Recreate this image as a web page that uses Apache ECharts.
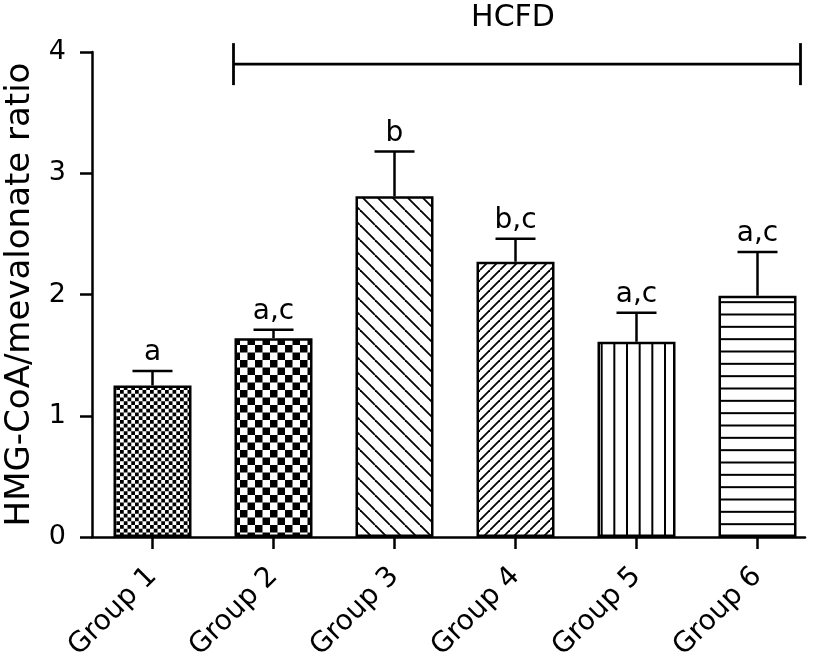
<!DOCTYPE html>
<html><head><meta charset="utf-8">
<script src="https://cdn.jsdelivr.net/npm/echarts@6/dist/echarts.min.js"></script>
<style>html,body{margin:0;padding:0;background:#fff}#c{width:825px;height:667px}</style>
</head><body><div id="c"></div>
<script>
// ---- data ----
const categories = ['Group 1', 'Group 2', 'Group 3', 'Group 4', 'Group 5', 'Group 6'];
const means = [1.25, 1.64, 2.81, 2.27, 1.61, 1.99];
const errors = [0.12, 0.07, 0.37, 0.19, 0.24, 0.36];
const letters = ['a', 'a,c', 'b', 'b,c', 'a,c', 'a,c'];
const yTicks = [0, 1, 2, 3, 4];
const yTitle = 'HMG-CoA/mevalonate ratio';
const bracketLabel = 'HCFD';
const bracketFrom = 1;
const bracketTo = 5;
const bracketLevel = 3.9;

// ---- styles ----
const FONT = 'DejaVu Sans';
const BAR_W = 78;
const LW = 2.5;

function makeCanvas(w, h, draw) {
  const c = document.createElement('canvas');
  c.width = w; c.height = h;
  const g = c.getContext('2d');
  g.fillStyle = '#fff'; g.fillRect(0, 0, w, h);
  g.fillStyle = '#000'; g.strokeStyle = '#000';
  draw(g, w, h);
  return { image: c, repeat: 'repeat' };
}
function checker(size, n) {
  return makeCanvas(size, size, (g) => {
    const cell = size / n;
    for (let i = 0; i < n; i++) for (let j = 0; j < n; j++)
      if ((i + j) % 2 === 0) g.fillRect(i * cell, j * cell, cell, cell);
  });
}
function diag(p, back, lw) {
  return makeCanvas(p, p, (g) => {
    g.lineWidth = lw;
    for (let k = -1; k <= 1; k++) {
      g.beginPath();
      if (back) { g.moveTo(k * p, 0); g.lineTo(k * p + p, p); }
      else { g.moveTo(k * p, p); g.lineTo(k * p + p, 0); }
      g.stroke();
    }
  });
}
function vlines(w, n, lw) {
  return makeCanvas(w, 4, (g, W, H) => {
    const s = w / n;
    for (let k = 0; k < n; k++) g.fillRect(k * s + s / 2 - lw / 2, 0, lw, H);
  });
}
function hlines(h, n, lw) {
  return makeCanvas(4, h, (g, W, H) => {
    const s = h / n;
    for (let k = 0; k < n; k++) g.fillRect(0, k * s + s / 2 - lw / 2, W, lw);
  });
}
const patterns = [
  checker(15, 4),
  checker(15, 2),
  diag(15, true, 1.8),
  diag(10, false, 1.8),
  vlines(38, 3, 2),
  hlines(37, 3, 2)
];

const chart = echarts.init(document.getElementById('c'), null, { renderer: 'canvas' });
chart.setOption({
  backgroundColor: '#fff',
  animation: false,
  grid: [
    { left: 92, right: 7, top: 52, bottom: 130, containLabel: false, outerBoundsMode: 'none' },
    { left: 92, right: 20, top: 52, bottom: 130, containLabel: false, outerBoundsMode: 'none' }
  ],
  xAxis: [
    {
      type: 'category', data: categories, gridIndex: 0,
      axisLine: { show: false },
      axisTick: { show: true, alignWithLabel: true, length: 12, lineStyle: { color: '#000', width: LW } },
      axisLabel: { rotate: 45, fontFamily: FONT, fontSize: 28, color: '#000', margin: 35, interval: 0 },
      splitLine: { show: false }
    },
    {
      type: 'value', gridIndex: 1, min: 0, max: 1,
      axisLine: { show: true, onZero: false, lineStyle: { color: '#000', width: LW } },
      axisTick: { show: false }, axisLabel: { show: false }, splitLine: { show: false }
    }
  ],
  yAxis: [
    {
      type: 'value', gridIndex: 0, min: yTicks[0], max: yTicks[yTicks.length - 1], interval: 1,
      name: yTitle, nameLocation: 'middle', nameGap: 55,
      nameTextStyle: { fontFamily: FONT, fontSize: 34, color: '#000' },
      axisLine: { show: true, lineStyle: { color: '#000', width: LW } },
      axisTick: { show: true, length: 12, lineStyle: { color: '#000', width: LW } },
      axisLabel: { fontFamily: FONT, fontSize: 27, color: '#000', margin: 26 },
      splitLine: { show: false }
    },
    { type: 'value', gridIndex: 1, show: false, min: 0, max: 1 }
  ],
  series: [
    {
      type: 'bar', xAxisIndex: 0, yAxisIndex: 0, barWidth: BAR_W,
      data: means.map((m, i) => ({ value: m, itemStyle: { color: patterns[i] } })),
      itemStyle: { borderColor: '#000', borderWidth: LW },
      z: 2
    },
    {
      type: 'custom', xAxisIndex: 0, yAxisIndex: 0, clip: false, z: 3,
      data: means.map((m, i) => [i, m, errors[i]]),
      encode: { x: 0, y: 1 },
      renderItem: (params, api) => {
        const i = api.value(0), m = api.value(1), e = api.value(2);
        const p0 = api.coord([i, m]), p1 = api.coord([i, m + e]);
        const st = { stroke: '#000', lineWidth: LW };
        return {
          type: 'group',
          children: [
            { type: 'line', shape: { x1: p0[0], y1: p0[1], x2: p1[0], y2: p1[1] }, style: st },
            { type: 'line', shape: { x1: p1[0] - 20, y1: p1[1], x2: p1[0] + 20, y2: p1[1] }, style: st },
            { type: 'text', style: { x: p1[0], y: p1[1] - 4, text: letters[params.dataIndex], align: 'center', verticalAlign: 'bottom', fontFamily: FONT, fontSize: 28, fill: '#000' } }
          ]
        };
      }
    },
    {
      type: 'custom', xAxisIndex: 0, yAxisIndex: 0, clip: false, z: 3,
      data: [[bracketFrom, bracketTo, bracketLevel]],
      encode: { x: [0, 1], y: 2 },
      renderItem: (params, api) => {
        const a = api.coord([api.value(0), api.value(2)]);
        const b = api.coord([api.value(1), api.value(2)]);
        const x1 = a[0] - BAR_W / 2 - 1, x2 = b[0] + BAR_W / 2 + 4, y = a[1];
        const st = { stroke: '#000', lineWidth: 2.8 };
        return {
          type: 'group',
          children: [
            { type: 'line', shape: { x1: x1, y1: y, x2: x2, y2: y }, style: st },
            { type: 'line', shape: { x1: x1, y1: y - 21, x2: x1, y2: y + 21 }, style: st },
            { type: 'line', shape: { x1: x2, y1: y - 21, x2: x2, y2: y + 21 }, style: st },
            { type: 'text', style: { x: (x1 + x2) / 2 - 4, y: y - 46, text: bracketLabel, align: 'center', verticalAlign: 'middle', fontFamily: FONT, fontSize: 30, fill: '#000' } }
          ]
        };
      }
    }
  ]
});
</script>
</body></html>
